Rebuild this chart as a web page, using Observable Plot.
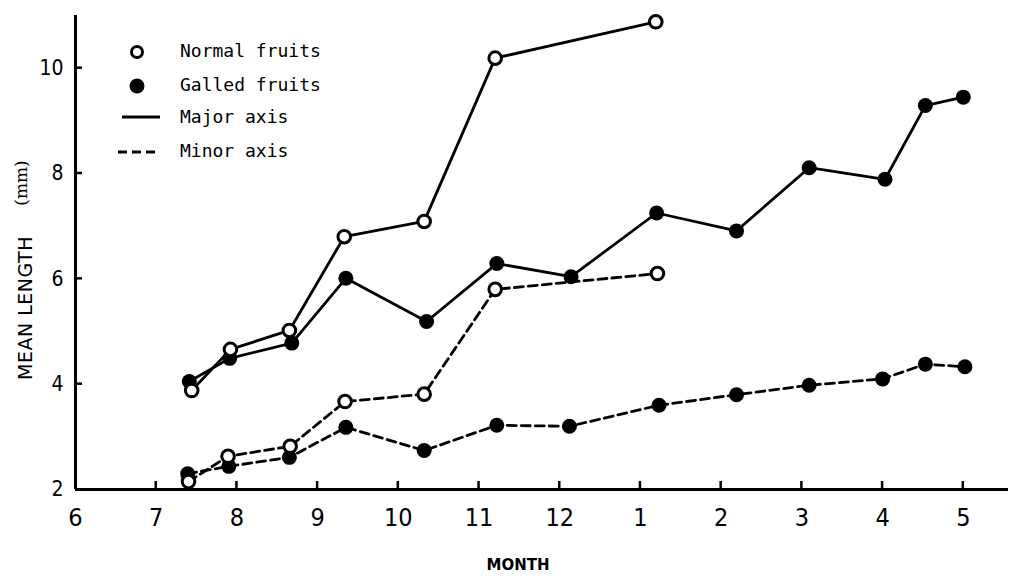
<!DOCTYPE html>
<html><head><meta charset="utf-8">
<script src="https://cdn.jsdelivr.net/npm/d3@7"></script>
<script src="https://cdn.jsdelivr.net/npm/@observablehq/plot@0.6"></script>
<style>body{margin:0;background:#fff}</style>
</head><body><div id="chart"></div>
<script>
// Month positions: 6..12 = Jun..Dec, 13..17 = Jan..May of next year
const monthTicks = [6, 7, 8, 9, 10, 11, 12, 13, 14, 15, 16, 17];
const monthLabels = ["6", "7", "8", "9", "10", "11", "12", "1", "2", "3", "4", "5"];
const yTicks = [2, 4, 6, 8, 10];

const normalMajorX = [7.44, 7.92, 8.65, 9.33, 10.32, 11.20, 13.19];
const normalMajorY = [3.88, 4.66, 5.02, 6.80, 7.09, 10.19, 10.88];
const normalMinorX = [7.40, 7.89, 8.66, 9.34, 10.32, 11.20, 13.21];
const normalMinorY = [2.15, 2.63, 2.82, 3.67, 3.81, 5.80, 6.10];
const galledMajorX = [7.41, 7.91, 8.68, 9.35, 10.35, 11.22, 12.14, 13.20, 14.19, 15.09, 16.03, 16.53, 17.00];
const galledMajorY = [4.05, 4.49, 4.78, 6.01, 5.19, 6.29, 6.04, 7.25, 6.91, 8.11, 7.89, 9.29, 9.45];
const galledMinorX = [7.39, 7.90, 8.65, 9.35, 10.32, 11.22, 12.12, 13.23, 14.19, 15.09, 16.00, 16.53, 17.02];
const galledMinorY = [2.30, 2.44, 2.61, 3.18, 2.74, 3.22, 3.20, 3.60, 3.80, 3.98, 4.10, 4.38, 4.33];

const legendItems = ["Normal fruits", "Galled fruits", "Major axis", "Minor axis"];

function rows(xs, ys, fruit, axis) {
  return xs.map((x, i) => ({x, y: ys[i], fruit, axis, key: fruit + "-" + axis}));
}
const data = [
  ...rows(galledMajorX, galledMajorY, "galled", "major"),
  ...rows(galledMinorX, galledMinorY, "galled", "minor"),
  ...rows(normalMajorX, normalMajorY, "normal", "major"),
  ...rows(normalMinorX, normalMinorY, "normal", "minor")
];
const major = data.filter(d => d.axis === "major");
const minor = data.filter(d => d.axis === "minor");
const galled = data.filter(d => d.fruit === "galled");
const normal = data.filter(d => d.fruit === "normal");

const numFont = '"DejaVu Sans Condensed", "Liberation Sans Narrow", "DejaVu Sans", sans-serif';
const fmt = d => monthLabels[monthTicks.indexOf(d)];

const plot = Plot.plot({
  width: 1010,
  height: 577,
  marginLeft: 75,
  marginRight: 2,
  marginTop: 15,
  marginBottom: 88,
  style: {fontFamily: numFont, color: "#000", background: "#fff"},
  x: {domain: [6, 17.56]},
  y: {domain: [2, 11]},
  marks: [
    Plot.line(major, {x: "x", y: "y", z: "key", stroke: "#000", strokeWidth: 2.8}),
    Plot.line(minor, {x: "x", y: "y", z: "key", stroke: "#000", strokeWidth: 2.8, strokeDasharray: "9,5"}),
    Plot.ruleX([6], {stroke: "#000", strokeWidth: 3}),
    Plot.ruleY([2], {stroke: "#000", strokeWidth: 3}),
    Plot.axisY({ticks: yTicks, tickSize: 0, tickPadding: 12, fontSize: 21, label: null}),
    Plot.axisX({ticks: monthTicks, tickSize: 0, tickPadding: 19, fontSize: 25, tickFormat: fmt, label: null}),
    Plot.dot(galled, {x: "x", y: "y", r: 7.5, fill: "#000", stroke: "none"}),
    Plot.dot(normal, {x: "x", y: "y", r: 6.3, fill: "#fff", stroke: "#000", strokeWidth: 3})
  ]
});
document.getElementById("chart").appendChild(plot);

const sx = plot.scale("x"), sy = plot.scale("y");
const svg = d3.select(plot);
const g = svg.append("g").attr("text-anchor", "start");

// inward tick marks, positioned through the plot's own scales
const x0 = sx.apply(6), y0 = sy.apply(2);
monthTicks.slice(1).forEach(t => {
  const px = sx.apply(t);
  g.append("line").attr("x1", px).attr("x2", px).attr("y1", y0).attr("y2", y0 - 8).attr("stroke", "#000").attr("stroke-width", 2.5);
});
yTicks.slice(1).forEach(t => {
  const py = sy.apply(t);
  g.append("line").attr("x1", x0).attr("x2", x0 + 7).attr("y1", py).attr("y2", py).attr("stroke", "#000").attr("stroke-width", 2.5);
});

// Legend
const mono = '"DejaVu Sans Mono", "Liberation Mono", monospace';
const base = [57, 91, 123, 157];
g.append("circle").attr("cx", 137).attr("cy", 52).attr("r", 5.5).attr("fill", "#fff").attr("stroke", "#000").attr("stroke-width", 3);
g.append("circle").attr("cx", 137).attr("cy", 86).attr("r", 7.5).attr("fill", "#000");
g.append("line").attr("x1", 122).attr("x2", 160).attr("y1", 117).attr("y2", 117).attr("stroke", "#000").attr("stroke-width", 2.8);
g.append("line").attr("x1", 118).attr("x2", 160).attr("y1", 152).attr("y2", 152).attr("stroke", "#000").attr("stroke-width", 2.8).attr("stroke-dasharray", "9,5");
legendItems.forEach((t, i) => {
  g.append("text").attr("x", 180).attr("y", base[i]).attr("text-anchor", "start")
    .attr("font-family", mono).attr("font-size", 18).attr("fill", "#000").text(t);
});

// Axis titles
g.append("text").attr("x", 518).attr("y", 570).attr("text-anchor", "middle")
  .attr("font-family", '"DejaVu Sans", sans-serif').attr("font-size", 15).attr("font-weight", "bold").attr("fill", "#000").text("MONTH");
g.append("text").attr("transform", "translate(32,308) rotate(-90)").attr("text-anchor", "middle")
  .attr("font-family", '"DejaVu Sans", sans-serif').attr("font-size", 19).attr("letter-spacing", 0.5).attr("fill", "#000").text("MEAN LENGTH");
g.append("text").attr("transform", "translate(27,183) rotate(-90)").attr("text-anchor", "middle")
  .attr("font-family", '"DejaVu Serif", serif').attr("font-size", 17).attr("fill", "#000").text("(mm)");
</script>
</body></html>
